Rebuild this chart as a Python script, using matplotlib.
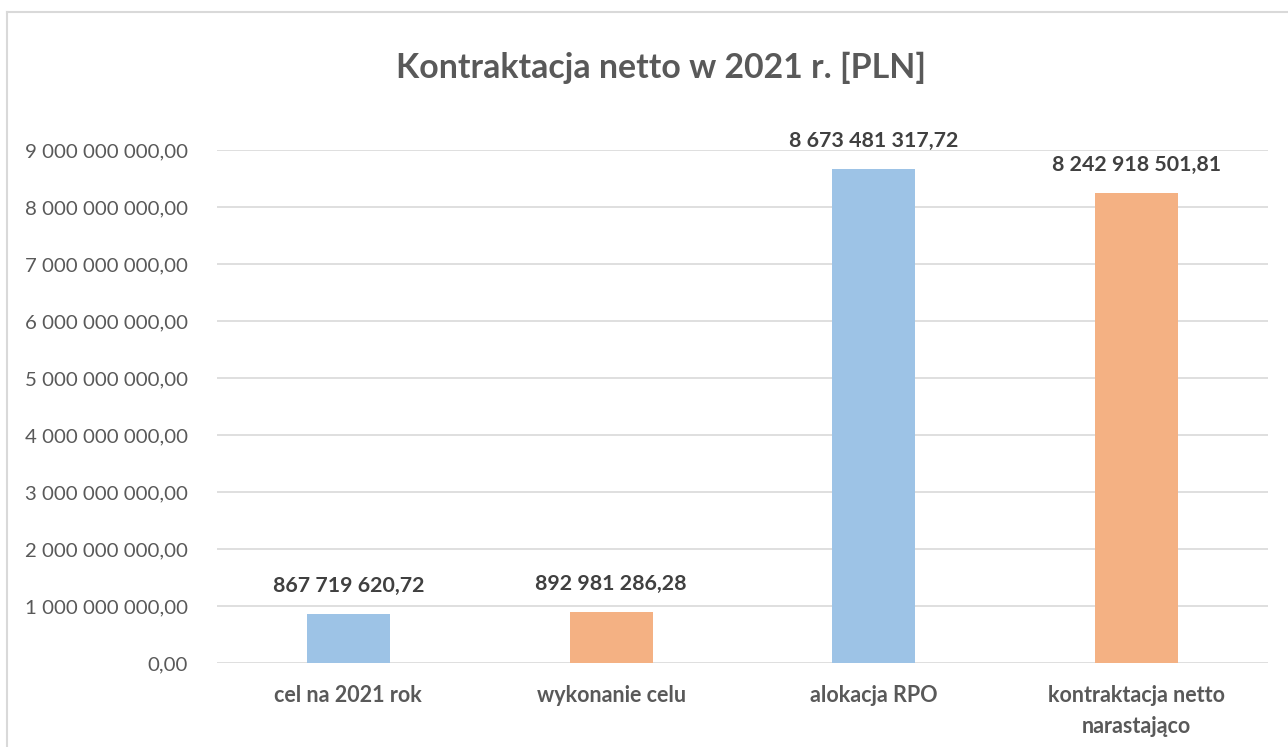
import matplotlib
matplotlib.use("Agg")
import matplotlib.pyplot as plt
from matplotlib.ticker import FuncFormatter
from matplotlib.lines import Line2D

categories = ["cel na 2021 rok", "wykonanie celu", "alokacja RPO", "kontraktacja netto\nnarastająco"]
values = [867719620.72, 892981286.28, 8673481317.72, 8242918501.81]
colors = ["#9DC3E6", "#F4B183", "#9DC3E6", "#F4B183"]
title = "Kontraktacja netto w 2021 r. [PLN]"

FONT = ["Lato", "DejaVu Sans"]
plt.rcParams['font.family'] = FONT

def fmt_pl(v):
    s = f"{v:,.2f}"
    s = s.replace(",", " ").replace(".", ",")
    return s

fig = plt.figure(figsize=(12.88, 7.47), dpi=100)
ax = fig.add_axes([217/1288, 84/747, 1051/1288, 513/747])

x = list(range(len(categories)))
ax.bar(x, values, width=0.315, color=colors, zorder=3)
ax.set_xlim(-0.5, len(categories) - 0.5)
ax.set_ylim(0, 9e9)
ax.set_yticks([i * 1e9 for i in range(10)])
ax.yaxis.set_major_formatter(FuncFormatter(lambda v, p: fmt_pl(v)))
ax.grid(axis='y', color="#D9D9D9", linewidth=1.2, zorder=0)
for s in ax.spines.values():
    s.set_visible(False)
ax.tick_params(axis='both', length=0, labelcolor="#595959")
ax.tick_params(axis='y', pad=21, labelsize=14.7)
ax.tick_params(axis='x', pad=16)
ax.set_xticks(x)
ax.set_xticklabels(categories, fontweight='bold', fontsize=15.5, color="#595959", linespacing=1.6)
for xi, v in zip(x, values):
    ax.annotate(fmt_pl(v), (xi, v), xytext=(0, 13), textcoords='offset points',
                ha='center', va='bottom', fontsize=15.4, fontweight='bold', color="#404040")

fig.text(661/1288, 1 - 68/747, title, ha='center', va='center', fontsize=24.4,
         fontweight='bold', color="#595959")

fig.add_artist(Line2D([7/1288, 1], [1 - 12/747, 1 - 12/747], color="#D9D9D9", linewidth=1.5, transform=fig.transFigure))
fig.add_artist(Line2D([7/1288, 7/1288], [0, 1 - 12/747], color="#D9D9D9", linewidth=1.5, transform=fig.transFigure))

fig.savefig("out.png", dpi=100)
